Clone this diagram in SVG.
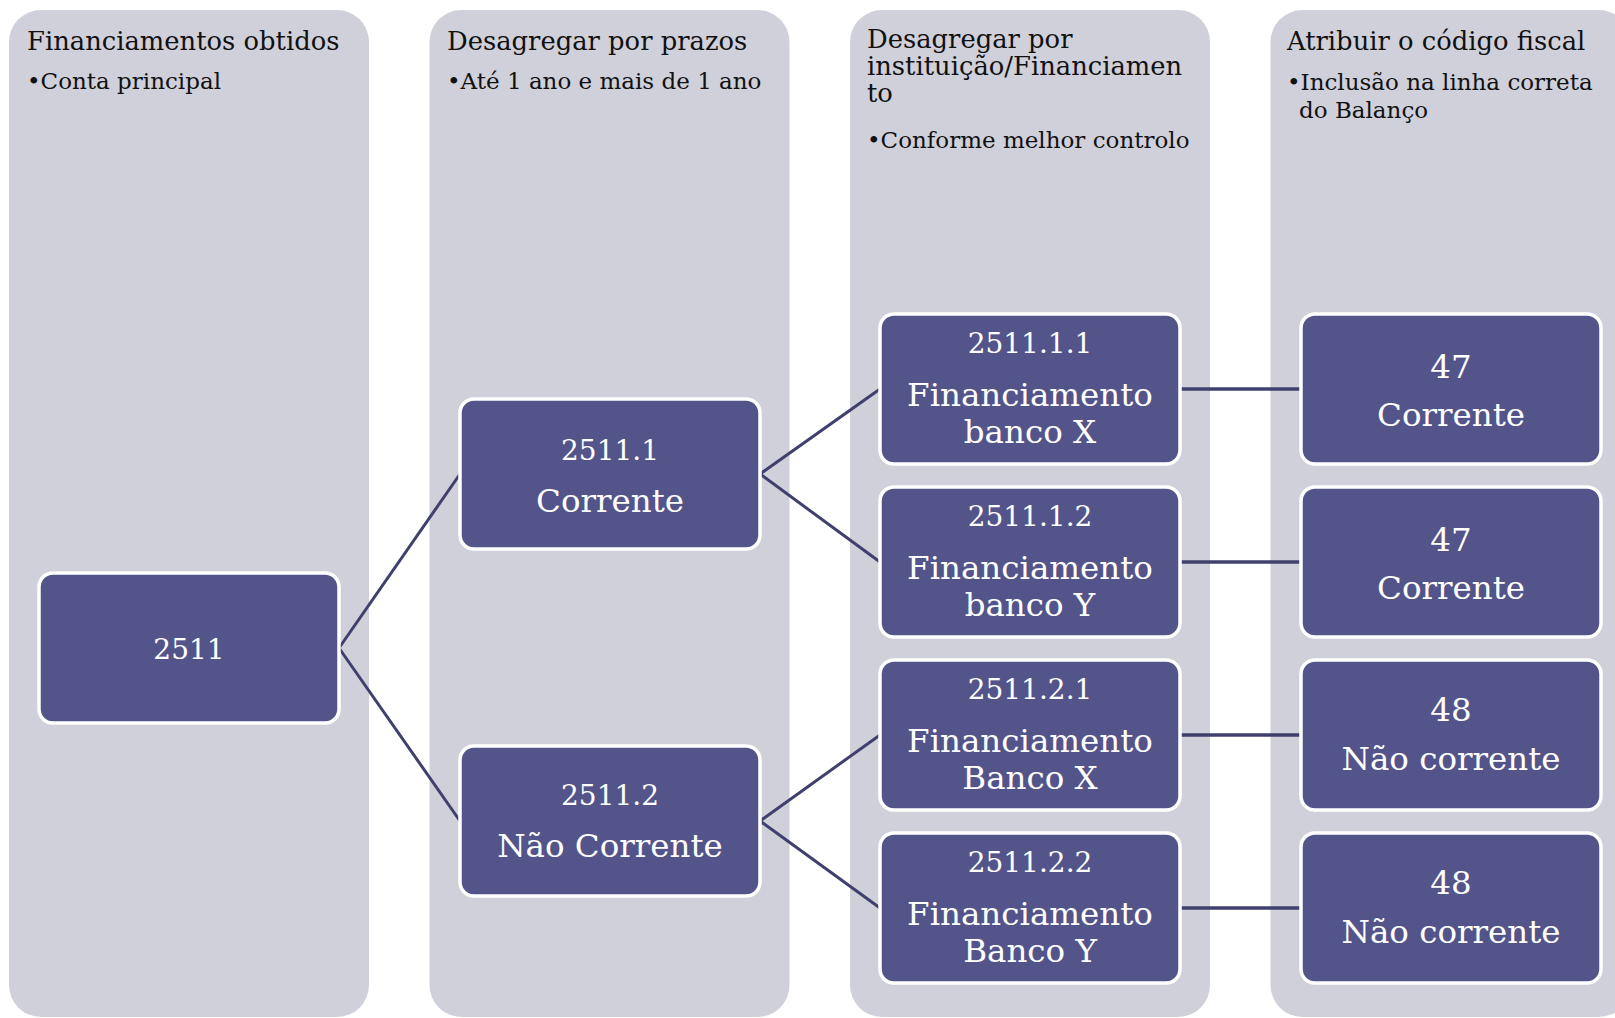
<svg xmlns="http://www.w3.org/2000/svg" width="1615" height="1018" viewBox="0 0 1615 1018">
<style>
.panel{fill:#d0d0da}
.node rect{fill:#53548a;stroke:#ffffff;stroke-width:3.5}
.ht{font-family:"DejaVu Serif","Liberation Serif",serif;fill:#111111}
.t1{font-size:25.8px}
.t2{font-size:23px}
.nt{font-family:"DejaVu Serif","Liberation Serif",serif;fill:#ffffff;text-anchor:middle}
.big{font-size:32.5px}
.num{font-size:28px}
.conn line{stroke:#40406e;stroke-width:3}
</style>
<rect width="1615" height="1018" fill="#ffffff"/>
<g id="panels">
<rect class="panel" x="9" y="10" width="360" height="1007" rx="32"/>
<rect class="panel" x="429.5" y="10" width="360" height="1007" rx="32"/>
<rect class="panel" x="850" y="10" width="360" height="1007" rx="32"/>
<rect class="panel" x="1270.5" y="10" width="360" height="1007" rx="32"/>
</g>
<g id="headers">
<text class="ht t1" x="27" y="50">Financiamentos obtidos</text>
<text class="ht t2" x="27" y="89">•Conta principal</text>
<text class="ht t1" x="447" y="50">Desagregar por prazos</text>
<text class="ht t2" x="447" y="89">•Até 1 ano e mais de 1 ano</text>
<text class="ht t1" x="867" y="48">Desagregar por</text>
<text class="ht t1" x="867" y="75">instituição/Financiamen</text>
<text class="ht t1" x="867" y="102">to</text>
<text class="ht t2" x="867" y="148">•Conforme melhor controlo</text>
<text class="ht t1" x="1287" y="50">Atribuir o código fiscal</text>
<text class="ht t2" x="1287" y="90">•Inclusão na linha correta</text>
<text class="ht t2" x="1299" y="118">do Balanço</text>
</g>
<g id="connectors" class="conn">
<line x1="339" y1="648" x2="460" y2="474"/>
<line x1="339" y1="648" x2="460" y2="821"/>
<line x1="760" y1="474" x2="880" y2="389"/>
<line x1="760" y1="474" x2="880" y2="562"/>
<line x1="760" y1="821" x2="880" y2="735"/>
<line x1="760" y1="821" x2="880" y2="908"/>
<line x1="1180" y1="389" x2="1301" y2="389" style="stroke-width:3.5"/>
<line x1="1180" y1="562" x2="1301" y2="562" style="stroke-width:3.5"/>
<line x1="1180" y1="735" x2="1301" y2="735" style="stroke-width:3.5"/>
<line x1="1180" y1="908" x2="1301" y2="908" style="stroke-width:3.5"/>
</g>
<g id="n2511" class="node">
<rect x="39" y="573" width="300" height="150" rx="14"/>
<text class="nt num" x="189" y="659">2511</text>
</g>
<g id="n2511_1" class="node">
<rect x="460" y="399" width="300" height="150" rx="14"/>
<text class="nt num" x="610" y="460">2511.1</text>
<text class="nt big" x="610" y="512">Corrente</text>
</g>
<g id="n2511_2" class="node">
<rect x="460" y="746" width="300" height="150" rx="14"/>
<text class="nt num" x="610" y="805">2511.2</text>
<text class="nt big" x="610" y="857">Não Corrente</text>
</g>
<g id="n2511_1_1" class="node">
<rect x="880" y="314" width="300" height="150" rx="14"/>
<text class="nt num" x="1030" y="353">2511.1.1</text>
<text class="nt big" x="1030" y="406">Financiamento</text>
<text class="nt big" x="1030" y="443">banco X</text>
</g>
<g id="n2511_1_2" class="node">
<rect x="880" y="487" width="300" height="150" rx="14"/>
<text class="nt num" x="1030" y="526">2511.1.2</text>
<text class="nt big" x="1030" y="579">Financiamento</text>
<text class="nt big" x="1030" y="616">banco Y</text>
</g>
<g id="n2511_2_1" class="node">
<rect x="880" y="660" width="300" height="150" rx="14"/>
<text class="nt num" x="1030" y="699">2511.2.1</text>
<text class="nt big" x="1030" y="752">Financiamento</text>
<text class="nt big" x="1030" y="789">Banco X</text>
</g>
<g id="n2511_2_2" class="node">
<rect x="880" y="833" width="300" height="150" rx="14"/>
<text class="nt num" x="1030" y="872">2511.2.2</text>
<text class="nt big" x="1030" y="925">Financiamento</text>
<text class="nt big" x="1030" y="962">Banco Y</text>
</g>
<g id="n47a" class="node">
<rect x="1301" y="314" width="300" height="150" rx="14"/>
<text class="nt big" x="1451" y="378">47</text>
<text class="nt big" x="1451" y="426">Corrente</text>
</g>
<g id="n47b" class="node">
<rect x="1301" y="487" width="300" height="150" rx="14"/>
<text class="nt big" x="1451" y="551">47</text>
<text class="nt big" x="1451" y="599">Corrente</text>
</g>
<g id="n48a" class="node">
<rect x="1301" y="660" width="300" height="150" rx="14"/>
<text class="nt big" x="1451" y="721">48</text>
<text class="nt big" x="1451" y="770">Não corrente</text>
</g>
<g id="n48b" class="node">
<rect x="1301" y="833" width="300" height="150" rx="14"/>
<text class="nt big" x="1451" y="894">48</text>
<text class="nt big" x="1451" y="943">Não corrente</text>
</g>
</svg>
